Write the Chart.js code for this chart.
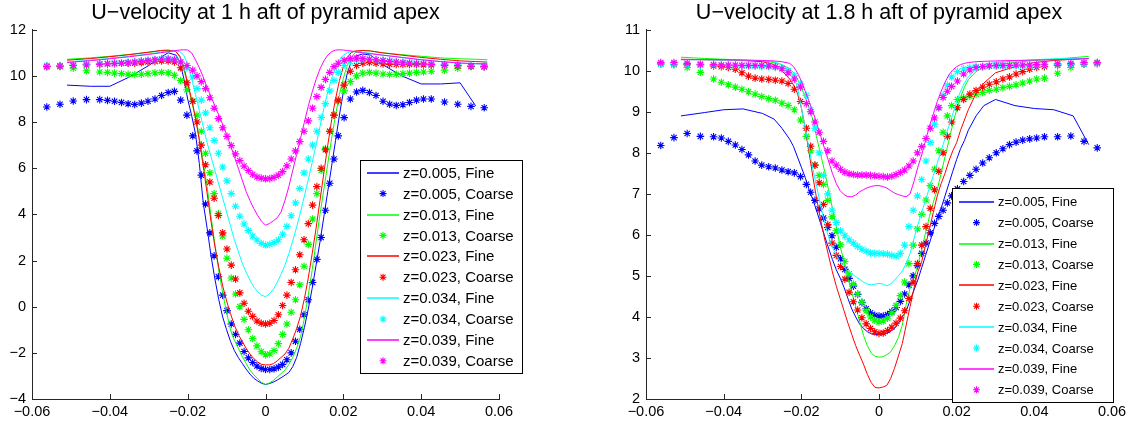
<!DOCTYPE html>
<html>
<head>
<meta charset="utf-8">
<script src="https://cdn.jsdelivr.net/npm/chart.js@4.4.1/dist/chart.umd.min.js"></script>
<style>
html,body{margin:0;padding:0;background:#fff;}
.wrap{position:absolute;top:0;height:425px;}
</style>
</head>
<body>
<div class="wrap" style="left:0;width:568px;"><canvas id="c1"></canvas></div>
<div class="wrap" style="left:568px;width:569px;"><canvas id="c2"></canvas></div>
<script>
// ---------- data ----------
const Z_LABELS = ['0.005','0.013','0.023','0.034','0.039'];
const COLORS = ['#0000ff','#00ff00','#ff0000','#00ffff','#ff00ff'];

const X_TICKS = [-0.06,-0.04,-0.02,0,0.02,0.04,0.06];
const X_TICK_LABELS = ['\u22120.06','\u22120.04','\u22120.02','0','0.02','0.04','0.06'];
const Y_TICKS_1 = [-4,-2,0,2,4,6,8,10,12];
const Y_TICK_LABELS_1 = ['\u22124','\u22122','0','2','4','6','8','10','12'];
const Y_TICKS_2 = [2,3,4,5,6,7,8,9,10,11];
const Y_TICK_LABELS_2 = ['2','3','4','5','6','7','8','9','10','11'];

// coarse-mesh x positions
const CX = [-0.0562,-0.0528,-0.0494,-0.046,-0.0426,-0.0406,-0.0388,-0.037,-0.0353,-0.0336,-0.0319,-0.0302,-0.0284,-0.0267,-0.025,-0.0234,-0.0218,-0.0202,
 -0.0187,-0.0176,-0.0165,-0.0154,-0.0143,-0.0132,-0.0121,-0.011,-0.0099,-0.0088,-0.0077,-0.0066,-0.0055,-0.0044,-0.0033,-0.0022,-0.0011,
 0,
 0.0011,0.0022,0.0033,0.0044,0.0055,0.0066,0.0077,0.0088,0.0099,0.011,0.0121,0.0132,0.0143,0.0154,0.0165,0.0176,0.0187,
 0.0202,0.0218,0.0234,0.025,0.0267,0.0284,0.0302,0.0319,0.0336,0.0353,0.037,0.0388,0.0406,0.0426,0.046,0.0494,0.0528,0.0562];

// fine-mesh x positions
const FX = [-0.051,-0.045,-0.04,-0.035,-0.03,-0.027,-0.025,-0.023,
 -0.022,-0.021,-0.02,-0.019,-0.018,-0.017,-0.016,-0.015,-0.014,-0.013,-0.012,-0.011,-0.01,-0.009,-0.008,-0.007,-0.006,-0.005,-0.004,-0.003,-0.002,-0.001,
 0,
 0.001,0.002,0.003,0.004,0.005,0.006,0.007,0.008,0.009,0.01,0.011,0.012,0.013,0.014,0.015,0.016,0.017,0.018,0.019,0.02,0.021,0.022,0.023,
 0.025,0.027,0.03,0.035,0.04,0.045,0.05,0.054,0.057];

// ---- 1 h: fine ----
const H1_FINE_005 = [9.6,9.55,9.55,9.95,10.45,10.8,11.0,10.9,
 10.6,9.9,9.0,8.3,7.5,6.2,4.5,3.4,2.2,1.2,0.3,-0.45,-1.0,-1.5,-1.9,-2.2,-2.45,-2.7,-2.92,-3.1,-3.22,-3.32,
 -3.37,
 -3.33,-3.27,-3.18,-3.08,-2.97,-2.85,-2.6,-2.2,-1.6,-0.9,-0.1,0.8,1.8,2.8,3.9,5.0,6.1,7.2,8.3,9.3,10.1,10.6,10.85,
 10.95,10.9,10.5,10.0,9.65,9.65,9.7,8.7,null];
const H1_FINE_013 = [10.72,10.78,10.85,10.93,11.02,11.08,11.1,11.05,
 10.8,10.3,9.6,8.9,8.2,7.3,6.3,5.2,3.9,2.7,1.55,0.6,-0.25,-1.0,-1.45,-1.8,-2.15,-2.45,-2.75,-2.95,-3.12,-3.28,
 -3.37,
 -3.3,-3.2,-3.05,-2.9,-2.75,-2.5,-2.2,-1.8,-1.3,-0.5,0.5,1.6,2.8,4.0,5.1,6.2,7.3,8.3,9.2,9.9,10.45,10.8,11.0,
 11.1,11.08,11.0,10.92,10.85,10.78,10.74,10.72,10.7];
const H1_FINE_023 = [10.68,10.75,10.83,10.92,11.03,11.1,11.12,11.05,
 10.85,10.4,9.7,9.0,8.2,7.2,6.1,4.9,3.7,2.6,1.7,0.9,0.25,-0.3,-0.8,-1.2,-1.5,-1.8,-2.05,-2.25,-2.4,-2.5,
 -2.52,
 -2.52,-2.47,-2.35,-2.2,-2.05,-1.8,-1.4,-0.95,-0.4,0.35,1.25,2.3,3.4,4.6,5.8,7.0,8.1,9.0,9.8,10.4,10.8,11.0,11.08,
 11.1,11.08,11.0,10.9,10.8,10.72,10.65,10.62,10.6];
const H1_FINE_034 = [10.6,10.68,10.76,10.85,10.95,11.02,11.05,11.08,
 11.05,10.9,10.5,9.9,9.2,8.5,7.8,7.1,6.5,5.9,5.3,4.7,4.1,3.5,2.9,2.4,1.9,1.5,1.15,0.85,0.65,0.5,
 0.43,
 0.55,0.75,1.05,1.4,1.8,2.3,2.85,3.45,4.1,4.8,5.5,6.25,7.0,7.8,8.6,9.3,9.9,10.35,10.7,10.9,11.0,11.05,11.05,
 11.02,10.98,10.9,10.8,10.7,10.62,10.55,10.52,10.5];
const H1_FINE_039 = [10.58,10.66,10.74,10.83,10.93,11.0,11.05,11.1,
 11.12,11.13,11.12,11.0,10.7,10.35,9.95,9.5,9.1,8.7,8.3,7.9,7.45,7.0,6.5,6.0,5.5,5.0,4.6,4.25,3.95,3.7,
 3.53,
 3.6,3.72,3.85,4.1,4.6,5.2,5.9,6.6,7.3,8.0,8.7,9.3,9.85,10.3,10.65,10.9,11.05,11.12,11.13,11.12,11.1,11.08,11.05,
 11.0,10.96,10.9,10.8,10.7,10.62,10.56,10.53,10.52];

// ---- 1 h: coarse ----
const H1_COARSE_005 = [8.65,8.77,8.91,8.97,8.97,8.94,8.9,8.85,8.79,8.76,8.82,8.9,9.0,9.15,9.28,9.33,8.95,8.3,
 7.4,6.75,5.7,4.45,3.2,2.2,1.3,0.5,-0.17,-0.75,-1.2,-1.58,-1.94,-2.22,-2.42,-2.57,-2.68,
 -2.72,
 -2.72,-2.69,-2.62,-2.5,-2.3,-2.0,-1.5,-0.98,-0.35,0.3,1.05,2.05,3.0,4.18,5.35,6.4,7.4,
 8.19,9.0,9.3,9.37,9.28,9.15,8.9,8.77,8.72,8.75,8.85,8.95,9.0,9.0,8.87,8.77,8.68,8.62];
const H1_COARSE_013 = [10.4,10.4,10.33,10.22,10.17,10.15,10.12,10.1,10.07,10.06,10.07,10.1,10.13,10.15,10.13,10.02,9.8,9.4,
 8.9,8.3,7.6,6.65,5.8,4.9,4.03,3.06,2.1,1.24,0.55,0.0,-0.55,-1.0,-1.38,-1.7,-1.95,
 -2.08,
 -2.05,-1.9,-1.6,-1.2,-0.75,-0.24,0.3,0.95,1.75,2.7,3.8,4.9,5.9,6.85,7.6,8.3,8.9,
 9.35,9.75,10.0,10.12,10.15,10.12,10.08,10.06,10.07,10.1,10.12,10.15,10.17,10.2,10.25,10.33,10.4,10.4];
const H1_COARSE_023 = [10.42,10.44,10.46,10.5,10.52,10.53,10.54,10.55,10.55,10.55,10.57,10.6,10.63,10.65,10.65,10.6,10.35,9.7,
 8.9,8.0,7.0,6.15,5.4,4.7,3.95,3.2,2.5,1.8,1.2,0.6,0.15,-0.2,-0.42,-0.62,-0.72,
 -0.75,
 -0.72,-0.6,-0.35,0.05,0.5,1.05,1.6,2.25,2.9,3.6,4.4,5.2,6.0,6.8,7.6,8.3,8.95,
 9.6,10.2,10.45,10.55,10.58,10.55,10.52,10.5,10.5,10.5,10.5,10.5,10.48,10.47,10.45,10.43,10.42,10.4];
const H1_COARSE_034 = [10.45,10.45,10.47,10.5,10.52,10.53,10.55,10.57,10.6,10.62,10.65,10.68,10.72,10.75,10.75,10.72,10.6,10.35,
 9.95,9.45,8.95,8.4,7.75,7.2,6.65,6.05,5.45,4.9,4.35,3.92,3.58,3.3,3.06,2.89,2.74,
 2.67,
 2.7,2.78,2.9,3.14,3.48,3.94,4.5,5.12,5.8,6.4,7.0,7.6,8.2,8.8,9.35,9.8,10.15,
 10.45,10.62,10.7,10.72,10.72,10.7,10.68,10.65,10.62,10.6,10.57,10.55,10.53,10.52,10.5,10.48,10.46,10.45];
const H1_COARSE_039 = [10.4,10.42,10.45,10.47,10.5,10.52,10.53,10.55,10.57,10.6,10.63,10.66,10.7,10.72,10.73,10.7,10.6,10.45,
 10.25,10.0,9.75,9.45,9.05,8.6,8.15,7.75,7.38,6.98,6.62,6.33,6.09,5.9,5.74,5.62,5.57,
 5.54,
 5.55,5.6,5.7,5.85,6.1,6.4,6.75,7.15,7.6,8.05,8.6,9.1,9.5,9.85,10.15,10.4,10.55,
 10.68,10.75,10.77,10.75,10.72,10.7,10.66,10.63,10.6,10.57,10.55,10.53,10.52,10.5,10.47,10.45,10.42,10.4];

// ---- 1.8 h: fine ----
const H18_FINE_005 = [8.9,8.98,9.05,9.07,8.96,8.82,8.6,8.33,
 8.15,7.9,7.65,7.4,7.1,6.85,6.57,6.27,5.97,5.68,5.4,5.15,4.95,4.72,4.45,4.19,4.0,3.83,3.72,3.64,3.59,3.57,
 3.57,
 3.57,3.6,3.65,3.72,3.85,4.0,4.15,4.4,4.65,4.9,5.2,5.5,5.8,6.1,6.4,6.65,6.95,7.25,7.55,7.84,8.1,8.3,8.55,
 8.9,9.15,9.3,9.15,9.08,9.05,8.9,8.2,null];
const H18_FINE_013 = [10.33,10.3,10.28,10.26,10.24,10.2,10.15,10.05,
 9.95,9.8,9.6,9.35,9.1,8.8,8.35,7.95,7.55,7.1,6.65,6.2,5.72,5.35,4.95,4.6,4.25,3.9,3.55,3.3,3.12,3.04,
 3.02,
 3.03,3.08,3.15,3.3,3.5,3.8,4.3,4.7,4.95,5.25,5.65,6.05,6.45,6.8,7.1,7.5,7.9,8.3,8.7,9.05,9.35,9.6,9.78,
 9.98,10.08,10.15,10.2,10.25,10.28,10.32,10.35,null];
const H18_FINE_023 = [10.28,10.27,10.26,10.25,10.22,10.15,10.0,9.8,
 9.65,9.45,9.1,8.6,8.0,7.4,6.85,6.35,5.9,5.5,5.1,4.75,4.45,4.15,3.85,3.57,3.3,3.07,2.85,2.6,2.4,2.28,
 2.27,
 2.29,2.33,2.5,2.75,3.05,3.35,3.8,4.25,4.7,5.1,5.35,5.75,6.15,6.55,6.95,7.25,7.5,7.8,8.05,8.25,8.55,8.8,9.05,
 9.45,9.7,9.95,10.1,10.2,10.25,10.28,10.3,null];
const H18_FINE_034 = [10.27,10.27,10.26,10.26,10.25,10.22,10.15,10.0,
 9.85,9.6,9.1,8.6,8.1,7.6,7.15,6.7,6.3,5.95,5.7,5.5,5.35,5.22,5.12,5.05,4.98,4.92,4.85,4.8,4.78,4.8,
 4.82,
 4.8,4.76,4.8,4.9,5.0,5.12,5.3,5.55,5.9,6.25,6.55,6.85,7.15,7.45,7.75,8.05,8.35,8.65,8.95,9.25,9.5,9.7,9.85,
 10.05,10.15,10.2,10.24,10.27,10.29,10.3,10.3,null];
const H18_FINE_039 = [10.27,10.27,10.27,10.26,10.25,10.24,10.22,10.18,
 10.1,9.95,9.75,9.5,9.25,9.0,8.7,8.4,8.1,7.8,7.5,7.25,7.08,6.98,6.93,6.93,6.97,7.05,7.1,7.15,7.18,7.2,
 7.2,
 7.18,7.14,7.08,7.02,6.98,6.95,6.93,7.0,7.3,7.65,7.95,8.3,8.65,8.95,9.25,9.5,9.72,9.9,10.02,10.1,10.15,10.18,10.2,
 10.22,10.23,10.24,10.25,10.26,10.27,10.28,10.3,null];

// ---- 1.8 h: coarse ----
const H18_COARSE_005 = [8.18,8.37,8.47,8.4,8.39,8.36,8.28,8.19,8.08,7.95,7.8,7.7,7.66,7.63,7.58,7.54,7.51,7.42,
 7.23,7.04,6.84,6.63,6.41,6.18,5.98,5.7,5.42,5.16,4.94,4.75,4.55,4.35,4.2,4.1,4.04,
 4.02,
 4.02,4.06,4.13,4.23,4.38,4.56,4.78,5.0,5.25,5.55,5.8,6.05,6.28,6.45,6.6,6.78,6.95,
 7.12,7.3,7.45,7.6,7.75,7.88,8.0,8.1,8.2,8.26,8.31,8.34,8.36,8.39,8.39,8.41,8.28,8.12];
const H18_COARSE_013 = [10.16,10.15,10.08,9.96,9.8,9.72,9.66,9.6,9.55,9.49,9.43,9.37,9.32,9.28,9.21,9.15,9.05,8.8,
 8.4,8.05,7.7,7.45,7.23,6.84,6.44,6.1,5.76,5.35,5.05,4.8,4.56,4.36,4.15,4.0,3.92,
 3.88,
 3.9,3.97,4.1,4.28,4.52,4.85,5.3,5.75,6.15,6.5,6.85,7.2,7.6,8.05,8.5,8.9,9.15,
 9.3,9.34,9.38,9.43,9.47,9.52,9.55,9.59,9.62,9.66,9.7,9.75,9.8,9.82,9.94,10.08,10.16,10.2];
const H18_COARSE_023 = [10.17,10.16,10.15,10.14,10.12,10.1,10.08,10.04,9.95,9.87,9.82,9.8,9.79,9.77,9.75,9.69,9.55,9.25,
 8.6,8.16,7.7,7.27,6.74,6.25,5.8,5.5,5.23,4.92,4.6,4.37,4.17,3.98,3.83,3.72,3.64,
 3.6,
 3.61,3.67,3.75,3.85,3.97,4.15,4.45,4.85,5.3,5.75,6.2,6.65,7.1,7.55,8.0,8.4,8.75,
 9.1,9.3,9.43,9.52,9.6,9.67,9.73,9.8,9.85,9.92,9.98,10.04,10.08,10.1,10.13,10.15,10.16,10.17];
const H18_COARSE_034 = [10.16,10.15,10.14,10.13,10.13,10.13,10.13,10.12,10.12,10.12,10.11,10.1,10.1,10.08,10.06,10.0,9.88,9.68,
 9.4,9.05,8.6,8.0,7.45,7.0,6.6,6.3,6.1,5.98,5.88,5.8,5.72,5.65,5.6,5.56,5.55,
 5.55,
 5.54,5.53,5.5,5.48,5.55,5.75,6.2,6.6,6.95,7.35,7.8,8.25,8.7,9.1,9.4,9.65,9.85,
 9.98,10.05,10.08,10.1,10.1,10.11,10.11,10.11,10.12,10.12,10.12,10.12,10.13,10.14,10.15,10.15,10.16,10.17];
const H18_COARSE_039 = [10.2,10.2,10.18,10.16,10.15,10.14,10.14,10.14,10.13,10.13,10.13,10.13,10.12,10.1,10.05,9.95,9.8,9.6,
 9.2,9.0,8.75,8.5,8.28,8.05,7.8,7.7,7.6,7.53,7.49,7.47,7.46,7.46,7.46,7.45,7.44,
 7.43,
 7.42,7.41,7.43,7.47,7.52,7.58,7.68,7.8,8.0,8.15,8.35,8.6,8.85,9.1,9.35,9.5,9.62,
 9.75,9.92,10.02,10.08,10.1,10.12,10.13,10.13,10.13,10.14,10.14,10.14,10.15,10.16,10.17,10.18,10.2,10.2];

// ---------- helpers ----------
const FONT_FAMILY = '"Liberation Sans", Arial, sans-serif';

function pts(xs, ys) {
  const out = [];
  for (let i = 0; i < xs.length; i++) if (ys[i] !== null && ys[i] !== undefined) out.push({x: xs[i], y: ys[i]});
  return out;
}
function buildDatasets(fineList, coarseList) {
  const ds = [];
  for (let k = 0; k < 5; k++) {
    ds.push({label: 'z=' + Z_LABELS[k] + ', Fine', data: pts(FX, fineList[k]), showLine: true,
      borderColor: COLORS[k], backgroundColor: COLORS[k], borderWidth: 1, pointRadius: 0, pointHoverRadius: 0, tension: 0});
    ds.push({label: 'z=' + Z_LABELS[k] + ', Coarse', data: pts(CX, coarseList[k]), showLine: false,
      borderColor: COLORS[k], backgroundColor: COLORS[k], borderWidth: 1.1, pointStyle: 'star', pointRadius: 3.8, pointHoverRadius: 3.8});
  }
  ds.forEach((d, i) => { d.order = 20 - i; });
  return ds;
}

const inwardTicks = {
  id: 'inwardTicks',
  afterDatasetsDraw(chart) {
    const ctx = chart.ctx, a = chart.chartArea;
    ctx.save();
    ctx.strokeStyle = '#262626';
    ctx.lineWidth = 1;
    const xs = chart.scales.x, ys = chart.scales.y;
    ctx.beginPath();
    xs.ticks.forEach(t => {
      const p = Math.round(xs.getPixelForValue(t.value)) + 0.5;
      ctx.moveTo(p, a.bottom); ctx.lineTo(p, a.bottom - 5);
    });
    ys.ticks.forEach(t => {
      const p = Math.round(ys.getPixelForValue(t.value)) + 0.5;
      ctx.moveTo(a.left, p); ctx.lineTo(a.left + 5, p);
    });
    ctx.stroke();
    ctx.restore();
  }
};

const boxLegend = {
  id: 'boxLegend',
  afterDraw(chart, args, opts) {
    const ctx = chart.ctx;
    ctx.save();
    ctx.setLineDash([]);
    ctx.fillStyle = '#ffffff';
    ctx.fillRect(opts.x0, opts.y0, opts.x1 - opts.x0, opts.y1 - opts.y0);
    ctx.strokeStyle = '#000000';
    ctx.lineWidth = 1;
    ctx.strokeRect(opts.x0 + 0.5, opts.y0 + 0.5, opts.x1 - opts.x0, opts.y1 - opts.y0);
    chart.data.datasets.forEach((d, i) => {
      const y = opts.row0 + i * opts.rowH;
      const col = COLORS[Math.floor(i / 2)];
      if (d.showLine) {
        ctx.save();
        ctx.globalAlpha = 0.75;
        ctx.fillStyle = col;
        ctx.fillRect(opts.lineX0, Math.round(y) - 1, opts.lineX1 - opts.lineX0, 2);
        ctx.restore();
      } else {
        ctx.save();
        ctx.strokeStyle = col;
        ctx.fillStyle = col;
        ctx.lineWidth = 1.1;
        Chart.helpers.drawPoint(ctx, {pointStyle: 'star', radius: 3.5, borderWidth: 1.1, rotation: 0},
          (opts.lineX0 + opts.lineX1) / 2, y);
        ctx.restore();
      }
      ctx.fillStyle = '#000000';
      ctx.font = opts.fontSize + 'px ' + FONT_FAMILY;
      ctx.textBaseline = 'middle';
      ctx.textAlign = 'left';
      ctx.fillText(d.label, opts.textX, y + 1);
    });
    ctx.restore();
  }
};

function makeChart(id, cfg) {
  return new Chart(document.getElementById(id), {
    type: 'scatter',
    data: {datasets: buildDatasets(cfg.fine, cfg.coarse)},
    plugins: [inwardTicks, boxLegend],
    options: {
      responsive: true,
      maintainAspectRatio: false,
      animation: false,
      events: [],
      layout: {padding: {left: cfg.padL, right: cfg.padR, top: 0, bottom: 0}},
      font: {family: FONT_FAMILY},
      plugins: {
        legend: {display: false},
        tooltip: {enabled: false},
        title: {display: true, text: cfg.title, fullSize: false, color: '#000',
          font: {size: 21.5, weight: 'normal', family: FONT_FAMILY, lineHeight: 1.15},
          padding: {top: 1, bottom: 4}},
        boxLegend: cfg.legend
      },
      scales: {
        x: {
          type: 'linear', min: -0.06, max: 0.06,
          afterBuildTicks: s => { s.ticks = X_TICKS.map(v => ({value: v})); },
          afterFit: s => { s.height = 26; },
          ticks: {autoSkip: false, maxRotation: 0, padding: 4, color: '#000',
            font: {size: 14.5, family: FONT_FAMILY},
            callback: (v, i) => X_TICK_LABELS[i]},
          grid: {display: true, drawOnChartArea: false, drawTicks: false},
          border: {display: true, color: '#262626', width: 1}
        },
        y: {
          type: 'linear', min: cfg.yMin, max: cfg.yMax,
          afterBuildTicks: s => { s.ticks = cfg.yTicks.map(v => ({value: v})); },
          afterFit: s => { s.width = 32; },
          ticks: {autoSkip: false, padding: 6, color: '#000',
            font: {size: 14.5, family: FONT_FAMILY},
            callback: (v, i) => cfg.yLabels[i]},
          grid: {display: true, drawOnChartArea: false, drawTicks: false},
          border: {display: true, color: '#262626', width: 1}
        }
      }
    }
  });
}

makeChart('c1', {
  title: 'U\u2212velocity at 1 h aft of pyramid apex',
  fine: [H1_FINE_005, H1_FINE_013, H1_FINE_023, H1_FINE_034, H1_FINE_039],
  coarse: [H1_COARSE_005, H1_COARSE_013, H1_COARSE_023, H1_COARSE_034, H1_COARSE_039],
  yMin: -4, yMax: 12, yTicks: Y_TICKS_1, yLabels: Y_TICK_LABELS_1,
  padL: 0, padR: 69,
  legend: {x0: 360, y0: 160, x1: 522, y1: 373, row0: 172.7, rowH: 20.9, lineX0: 367, lineX1: 399, textX: 403, fontSize: 15}
});
makeChart('c2', {
  title: 'U\u2212velocity at 1.8 h aft of pyramid apex',
  fine: [H18_FINE_005, H18_FINE_013, H18_FINE_023, H18_FINE_034, H18_FINE_039],
  coarse: [H18_COARSE_005, H18_COARSE_013, H18_COARSE_023, H18_COARSE_034, H18_COARSE_039],
  yMin: 2, yMax: 11, yTicks: Y_TICKS_2, yLabels: Y_TICK_LABELS_2,
  padL: 46, padR: 25,
  legend: {x0: 384, y0: 188, x1: 545, y1: 402, row0: 201.7, rowH: 20.9, lineX0: 391, lineX1: 426, textX: 430, fontSize: 13}
});
</script>
</body>
</html>
